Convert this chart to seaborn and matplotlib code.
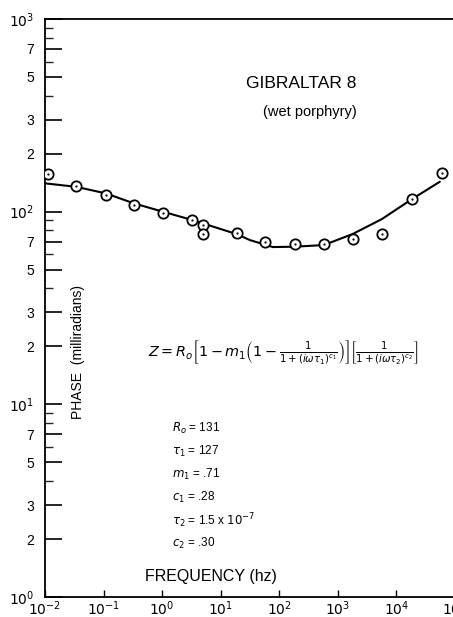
import numpy as np
import pandas as pd
import matplotlib
matplotlib.use("Agg")
import matplotlib.pyplot as plt
import seaborn as sns
from matplotlib.ticker import FixedLocator, NullFormatter

sns.set_theme(style="white")
plt.rcParams["font.family"] = ["Liberation Sans", "DejaVu Sans"]
plt.rcParams["mathtext.fontset"] = "dejavusans"
plt.rcParams["text.color"] = "black"

# measured phase (milliradians) vs frequency (Hz)
freq_pts = [0.0114, 0.0338, 0.1087, 0.330, 1.04, 3.26, 4.97, 4.97, 18.7,
            56.8, 184.6, 583, 1782, 5700, 18100, 59600]
phase_pts = [156.7, 136.2, 121.5, 108.2, 98.3, 90.1, 84.9, 76.2, 77.2,
             69.3, 67.7, 67.7, 72.1, 76.8, 115.8, 158.0]

# fitted curve
freq_fit = [0.01, 0.0338, 0.1087, 0.330, 1.04, 3.26, 18.7, 31.5, 77.8,
            184.6, 577, 1782, 5636, 18100, 55100]
phase_fit = [140.3, 134.6, 124.5, 110.4, 99.9, 90.5, 76.5, 71.2, 65.5,
             65.8, 67.1, 76.5, 91.5, 115.8, 143.0]

pts = pd.DataFrame({"freq": freq_pts, "phase": phase_pts})
fit = pd.DataFrame({"freq": freq_fit, "phase": phase_fit})

fig = plt.figure(figsize=(4.53, 6.17), dpi=100)
ax = fig.add_axes([45/453, 1-597/617, (455-45)/453, (597-19)/617])
ax.set_xscale("log")
ax.set_yscale("log")

sns.lineplot(data=fit, x="freq", y="phase", ax=ax, color="black", lw=1.5,
             estimator=None, sort=False)
sns.scatterplot(data=pts, x="freq", y="phase", ax=ax, marker="o", s=55,
                facecolor="white", edgecolor="black", linewidth=1.3, zorder=5)
ax.plot(pts["freq"], pts["phase"], ls="none", marker=".", ms=1.2, color="black", zorder=6)

ax.set_xlim(1e-2, 1e5)
ax.set_ylim(1, 1000)
ax.set_xlabel("")
ax.set_ylabel("")

for s in ["left", "bottom", "top"]:
    ax.spines[s].set_color("black")
    ax.spines[s].set_linewidth(1.3)
ax.spines["right"].set_visible(False)

# y ticks
ymaj = [1, 2, 3, 5, 7, 10, 20, 30, 50, 70, 100, 200, 300, 500, 700, 1000]
ylab = ["$10^0$", "2", "3", "5", "7", "$10^1$", "2", "3", "5", "7",
        "$10^2$", "2", "3", "5", "7", "$10^3$"]
ymin = [4, 6, 8, 9, 40, 60, 80, 90, 400, 600, 800, 900]
ax.yaxis.set_major_locator(FixedLocator(ymaj))
ax.set_yticklabels(ylab)
ax.yaxis.set_minor_locator(FixedLocator(ymin))
ax.yaxis.set_minor_formatter(NullFormatter())
ax.tick_params(axis="y", which="major", direction="in", length=12, width=1.2,
               left=True, labelsize=10, pad=8, colors="black")
ax.tick_params(axis="y", which="minor", direction="in", length=6, width=1.0, left=True)

# x ticks
xmaj = [1e-2, 1e-1, 1e0, 1e1, 1e2, 1e3, 1e4, 1e5]
xlab = ["$10^{-2}$", "$10^{-1}$", "$10^0$", "$10^1$", "$10^2$", "$10^3$", "$10^4$", "$10^5$"]
ax.xaxis.set_major_locator(FixedLocator(xmaj))
ax.set_xticklabels(xlab)
ax.xaxis.set_minor_locator(FixedLocator([]))
ax.tick_params(axis="x", which="major", direction="in", length=5, width=1.0,
               bottom=True, labelsize=10, pad=2, colors="black")


def fx(px):
    return px / 453


def fy(py):
    return 1 - py / 617


fig.text(fx(301), fy(83), "GIBRALTAR 8", ha="center", va="center", fontsize=12.5)
fig.text(fx(310), fy(112), "(wet porphyry)", ha="center", va="center", fontsize=10.5)

eq = (r"$Z = R_o\left[1 - m_1\left(1 - \frac{1}{1+(i\omega\tau_1)^{c_1}}\right)\right]"
      r"\left[\frac{1}{1+(i\omega\tau_2)^{c_2}}\right]$")
fig.text(fx(148), fy(352), eq, ha="left", va="center", fontsize=10.4)

params = [r"$R_o$ = 131", r"$\tau_1$ = 127", r"$m_1$ = .71", r"$c_1$ = .28",
          r"$\tau_2$ = 1.5 x $10^{-7}$", r"$c_2$ = .30"]
ys = [428, 451, 474, 497, 521, 543]
for t, y in zip(params, ys):
    fig.text(fx(172), fy(y), t, ha="left", va="center", fontsize=8.5)

fig.text(fx(211), fy(577), "FREQUENCY (hz)", ha="center", va="center", fontsize=11.5)
fig.text(fx(78), fy(352), "PHASE  (milliradians)", ha="center", va="center",
         rotation=90, fontsize=10)

fig.savefig("out.png", dpi=100)
